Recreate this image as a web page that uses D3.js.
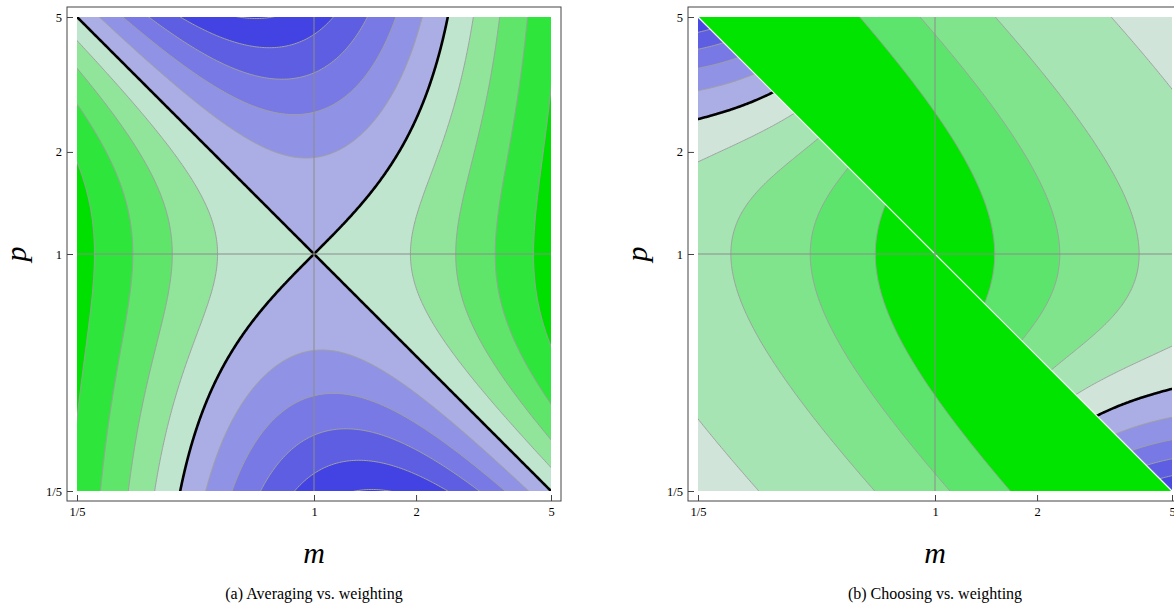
<!DOCTYPE html>
<html>
<head>
<meta charset="utf-8">
<script src="https://cdn.jsdelivr.net/npm/d3@7"></script>
<style>
  body { margin: 0; background: #fff; }
  svg { display: block; font-family: "Liberation Serif", "DejaVu Serif", serif; }
</style>
</head>
<body>
<svg id="chart" width="1174" height="608"></svg>
<script>
/* ============================================================
   Averaging / choosing vs. weighting — two log-log contour maps
   ============================================================ */

// ---- data ----
const tickValues = [1 / 5, 1, 2, 5];
const tickLabels = ['1/5', '1', '2', '5'];
const gridValues = [1];

// contour levels of the error ratio (weighting / alternative)
const levels = [0.6, 0.7, 0.8, 0.9, 1.0, 1.1, 1.2, 1.3, 1.4, 1.5];
const zeroLevel = 1.0;

// band colours, from below the first level to above the last
const colorsA = ['#00e000', '#2ee53c', '#5ee56a', '#90e59b', '#c0e5cf',
                 '#abade5', '#9092e5', '#7879e4', '#5e5ee3', '#4343e3', '#3a3ae0'];
const colorsB = ['#00e400', '#5ce46c', '#80e48c', '#a6e4b3', '#d0e4da',
                 '#abade5', '#9092e5', '#7879e4', '#5e5ee3', '#4848e3', '#3a3ae0'];

const captions = ['(a) Averaging vs. weighting', '(b) Choosing vs. weighting'];
const axisNames = ['m', 'p'];

// ---- the plotted surfaces ----
// relative squared error of putting weight v on estimate 1 (best weight m/(1+m))
function mse(v, m) {
  const best = m / (1 + m);
  return (v - best) * (v - best) + best * (1 - best);
}
const weightOf = (m, p) => m * p / (1 + m * p);
const ratioAverage = (m, p) => mse(weightOf(m, p), m) / mse(0.5, m);
const ratioChoose = pick => (m, p) => mse(weightOf(m, p), m) / mse(pick, m);

// ---- layout ----
const svg = d3.select('#chart');
const plotSize = 474;
const plotTop = 17;
const inset = 10;          // gap between frame and plotted region
const panelLefts = [77, 698];

const N = 300;             // grid resolution
const gLo = -1.7, gHi = 1.7;
const gStep = (gHi - gLo) / (N - 1);

function sampleGrid(fn) {
  const values = new Float64Array(N * N);
  for (let j = 0; j < N; j++) {
    const p = Math.exp(gLo + j * gStep);
    for (let i = 0; i < N; i++) {
      values[j * N + i] = fn(Math.exp(gLo + i * gStep), p);
    }
  }
  return values;
}

function drawContours(g, fn, colors, x, y, clipId) {
  const path = d3.geoPath(d3.geoTransform({
    point(px, py) {
      this.stream.point(
        x(Math.exp(gLo + (px - 0.5) * gStep)),
        y(Math.exp(gLo + (py - 0.5) * gStep)));
    }
  }));
  const bands = d3.contours().size([N, N]).thresholds(levels)(sampleGrid(fn));

  const layer = g.append('g').attr('clip-path', `url(#${clipId})`);

  layer.append('rect')
    .attr('x', x.range()[0]).attr('y', y.range()[1])
    .attr('width', plotSize).attr('height', plotSize)
    .attr('fill', colors[0]);

  layer.selectAll('path.band')
    .data(bands)
    .join('path')
    .attr('class', 'band')
    .attr('d', path)
    .attr('fill', (d, i) => colors[i + 1])
    .attr('fill-rule', 'evenodd');

  layer.selectAll('path.iso')
    .data(bands)
    .join('path')
    .attr('class', 'iso')
    .attr('d', path)
    .attr('fill', 'none')
    .attr('stroke', d => d.value === zeroLevel ? '#000' : '#a0a0a0')
    .attr('stroke-width', d => d.value === zeroLevel ? 2.6 : 1)
    .attr('stroke-linejoin', 'round');
}

function drawPanel(idx) {
  const left = panelLefts[idx];
  const x = d3.scaleLog().domain([1 / 5, 5]).range([left, left + plotSize]);
  const y = d3.scaleLog().domain([1 / 5, 5]).range([plotTop + plotSize, plotTop]);
  const g = svg.append('g');
  const defs = g.append('defs');
  const [x0, x1] = x.range();
  const [y1, y0] = y.range();

  if (idx === 0) {
    defs.append('clipPath').attr('id', 'clip-a')
      .append('rect').attr('x', x0).attr('y', y0)
      .attr('width', plotSize).attr('height', plotSize);
    drawContours(g, ratioAverage, colorsA, x, y, 'clip-a');
  } else {
    // choosing switches estimate on the line m p = 1
    defs.append('clipPath').attr('id', 'clip-b-hi')
      .append('polygon').attr('points', [[x0, y0], [x1, y0], [x1, y1]].join(' '));
    defs.append('clipPath').attr('id', 'clip-b-lo')
      .append('polygon').attr('points', [[x0, y0], [x0, y1], [x1, y1]].join(' '));
    drawContours(g, ratioChoose(1), colorsB, x, y, 'clip-b-hi');
    drawContours(g, ratioChoose(0), colorsB, x, y, 'clip-b-lo');
    g.append('line')
      .attr('x1', x(1 / 5)).attr('y1', y(5))
      .attr('x2', x(5)).attr('y2', y(1 / 5))
      .attr('stroke', '#fff').attr('stroke-width', 1.2);
  }

  // grid lines at m = 1 and p = 1
  g.selectAll('line.gx').data(gridValues).join('line')
    .attr('x1', d => x(d)).attr('x2', d => x(d))
    .attr('y1', y0).attr('y2', y1)
    .attr('stroke', '#8c8c8c').attr('stroke-width', 1);
  g.selectAll('line.gy').data(gridValues).join('line')
    .attr('y1', d => y(d)).attr('y2', d => y(d))
    .attr('x1', x0).attr('x2', x1)
    .attr('stroke', '#8c8c8c').attr('stroke-width', 1);

  // frame
  g.append('rect')
    .attr('x', x0 - inset).attr('y', y0 - inset)
    .attr('width', plotSize + 2 * inset).attr('height', plotSize + 2 * inset)
    .attr('fill', 'none').attr('stroke', '#444').attr('stroke-width', 1);

  const fmt = (d, i) => tickLabels[i];
  const styleAxis = a => {
    a.select('.domain').remove();
    a.selectAll('.tick line').attr('stroke', '#444');
    a.selectAll('.tick text').attr('fill', '#000');
    a.attr('font-family', null).attr('font-size', 12.5);
  };

  g.append('g')
    .attr('transform', `translate(${x0 - inset},0)`)
    .call(d3.axisLeft(y).tickValues(tickValues).tickFormat(fmt)
      .tickSizeInner(-6).tickSizeOuter(0).tickPadding(5))
    .call(styleAxis);

  g.append('g')
    .attr('transform', `translate(0,${y1 + inset})`)
    .call(d3.axisBottom(x).tickValues(tickValues).tickFormat(fmt)
      .tickSizeInner(-6).tickSizeOuter(0).tickPadding(6))
    .call(styleAxis);

  // axis names
  g.append('text')
    .attr('x', (x0 + x1) / 2).attr('y', 563)
    .attr('text-anchor', 'middle')
    .attr('font-style', 'italic').attr('font-size', 30)
    .text(axisNames[0]);
  g.append('text')
    .attr('transform', `translate(${x0 - 51},${y(1)}) rotate(-90)`)
    .attr('text-anchor', 'middle')
    .attr('font-style', 'italic').attr('font-size', 30)
    .text(axisNames[1]);

  // caption
  g.append('text')
    .attr('x', (x0 + x1) / 2).attr('y', 599)
    .attr('text-anchor', 'middle')
    .attr('font-size', 16)
    .text(captions[idx]);
}

drawPanel(0);
drawPanel(1);
</script>
</body>
</html>
